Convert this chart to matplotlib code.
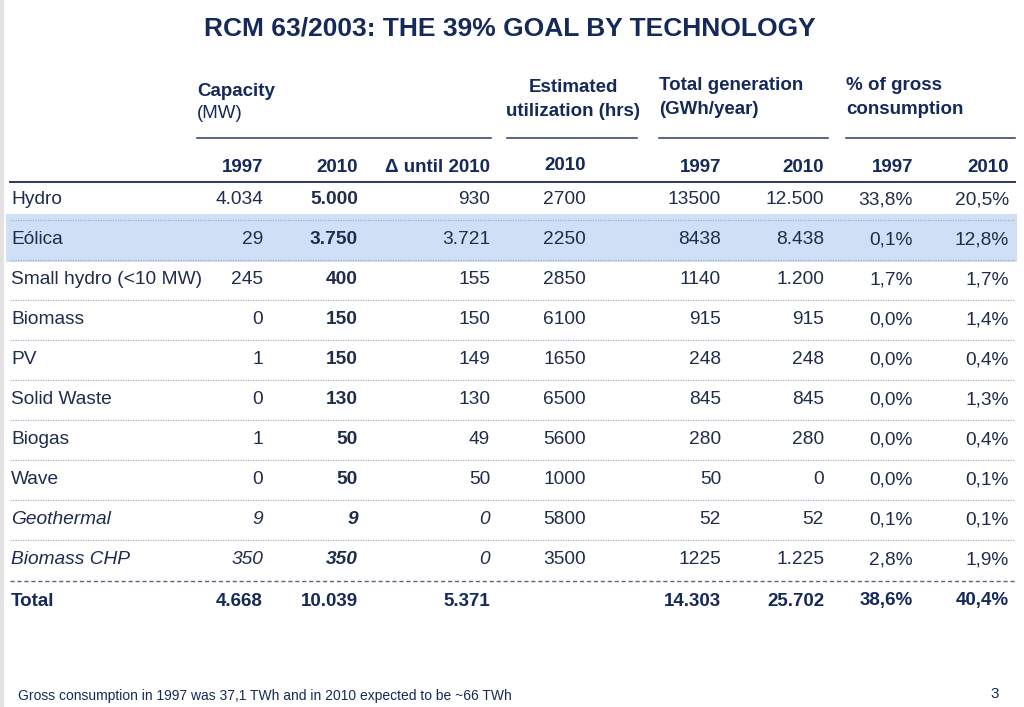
import matplotlib.pyplot as plt
from matplotlib.patches import Rectangle

techs = ['Hydro', 'Eólica', 'Small hydro (<10 MW)', 'Biomass', 'PV', 'Solid Waste',
         'Biogas', 'Wave', 'Geothermal', 'Biomass CHP']
cap_1997 = ['4.034', '29', '245', '0', '1', '0', '1', '0', '9', '350']
cap_2010 = ['5.000', '3.750', '400', '150', '150', '130', '50', '50', '9', '350']
delta_2010 = ['930', '3.721', '155', '150', '149', '130', '49', '50', '0', '0']
util_2010 = ['2700', '2250', '2850', '6100', '1650', '6500', '5600', '1000', '5800', '3500']
gen_1997 = ['13500', '8438', '1140', '915', '248', '845', '280', '50', '52', '1225']
gen_2010 = ['12.500', '8.438', '1.200', '915', '248', '845', '280', '0', '52', '1.225']
pct_1997 = ['33,8%', '0,1%', '1,7%', '0,0%', '0,0%', '0,0%', '0,0%', '0,0%', '0,1%', '2,8%']
pct_2010 = ['20,5%', '12,8%', '1,7%', '1,4%', '0,4%', '1,3%', '0,4%', '0,1%', '0,1%', '1,9%']
italic_rows = ['Geothermal', 'Biomass CHP']
highlight_row = 'Eólica'
totals = ['4.668', '10.039', '5.371', '', '14.303', '25.702', '38,6%', '40,4%']
year_labels = ['1997', '2010', 'Δ until 2010', '2010', '1997', '2010', '1997', '2010']

plt.rcParams['font.family'] = ['Liberation Sans', 'DejaVu Sans']
NAVY = '#15295a'
TEXT = '#1f2c4c'

fig = plt.figure(figsize=(10.24, 7.07), dpi=100)
ax = fig.add_axes([0, 0, 1, 1])
ax.set_xlim(0, 1024)
ax.set_ylim(707, 0)
ax.axis('off')

# left grey strip of the slide
ax.add_patch(Rectangle((0, 0), 4, 707, color='#e2e2e2', lw=0))

ax.text(510, 28, 'RCM 63/2003: THE 39% GOAL BY TECHNOLOGY', ha='center', va='center',
        fontsize=19, fontweight='bold', color=NAVY)

# group headers
hdr = dict(fontsize=13.5, fontweight='bold', color=NAVY, va='center')
ax.text(197, 91, 'Capacity', ha='left', **hdr)
ax.text(197, 114, '(MW)', ha='left', va='center', fontsize=13.5, color=NAVY)
ax.text(573, 88, 'Estimated', ha='center', **hdr)
ax.text(573, 111, 'utilization (hrs)', ha='center', **hdr)
ax.text(659, 86, 'Total generation', ha='left', **hdr)
ax.text(659, 109, '(GWh/year)', ha='left', **hdr)
ax.text(846, 86, '% of gross', ha='left', **hdr)
ax.text(846, 109, 'consumption', ha='left', **hdr)

for x0, x1 in [(197, 491), (507, 637), (659, 828), (846, 1015)]:
    ax.plot([x0, x1], [138, 138], color='#2a3a5e', lw=1.1)

col_right = [263, 358, 490, 586, 721, 824, 913, 1009]
for j, (x, lab) in enumerate(zip(col_right, year_labels)):
    ax.text(x, 165 if j == 3 else 168, lab, ha='right', **hdr)
ax.plot([10, 1015], [182, 182], color='#2a3a5e', lw=1.4)

# highlight band
row_y = [200 + 40 * i for i in range(len(techs))]
hi = techs.index(highlight_row)
ax.add_patch(Rectangle((6, row_y[hi] - 26), 1011, 48, color='#cfe0f6', lw=0, zorder=0))

for i, name in enumerate(techs):
    y = row_y[i]
    style = 'italic' if name in italic_rows else 'normal'
    ax.text(11, y, name, ha='left', va='center', fontsize=13.8, color=TEXT, style=style)
    vals = [cap_1997[i], cap_2010[i], delta_2010[i], util_2010[i],
            gen_1997[i], gen_2010[i], pct_1997[i], pct_2010[i]]
    for j, (x, v) in enumerate(zip(col_right, vals)):
        w = 'bold' if j == 1 else 'normal'
        st = style if j < 3 else 'normal'
        ax.text(x, y, v, ha='right', va='center', fontsize=13.8, color=TEXT,
                fontweight=w, style=st)
    if i < len(techs) - 1:
        ax.plot([10, 1015], [y + 20, y + 20], color='#a9b0bd', lw=0.9, ls=(0, (1, 1)))

# totals
ty = 601
ax.plot([10, 1015], [ty - 20, ty - 20], color='#5a6480', lw=1.0, ls=(0, (3, 2)))
ax.text(11, ty, 'Total', ha='left', **hdr)
for x, v in zip(col_right, totals):
    ax.text(x, ty, v, ha='right', **hdr)

ax.text(18, 696, 'Gross consumption in 1997 was 37,1 TWh and in 2010 expected to be ~66 TWh',
        ha='left', va='center', fontsize=10, color=NAVY)
ax.text(999, 694, '3', ha='right', va='center', fontsize=11, color=NAVY)

fig.savefig('out.png', dpi=100)
